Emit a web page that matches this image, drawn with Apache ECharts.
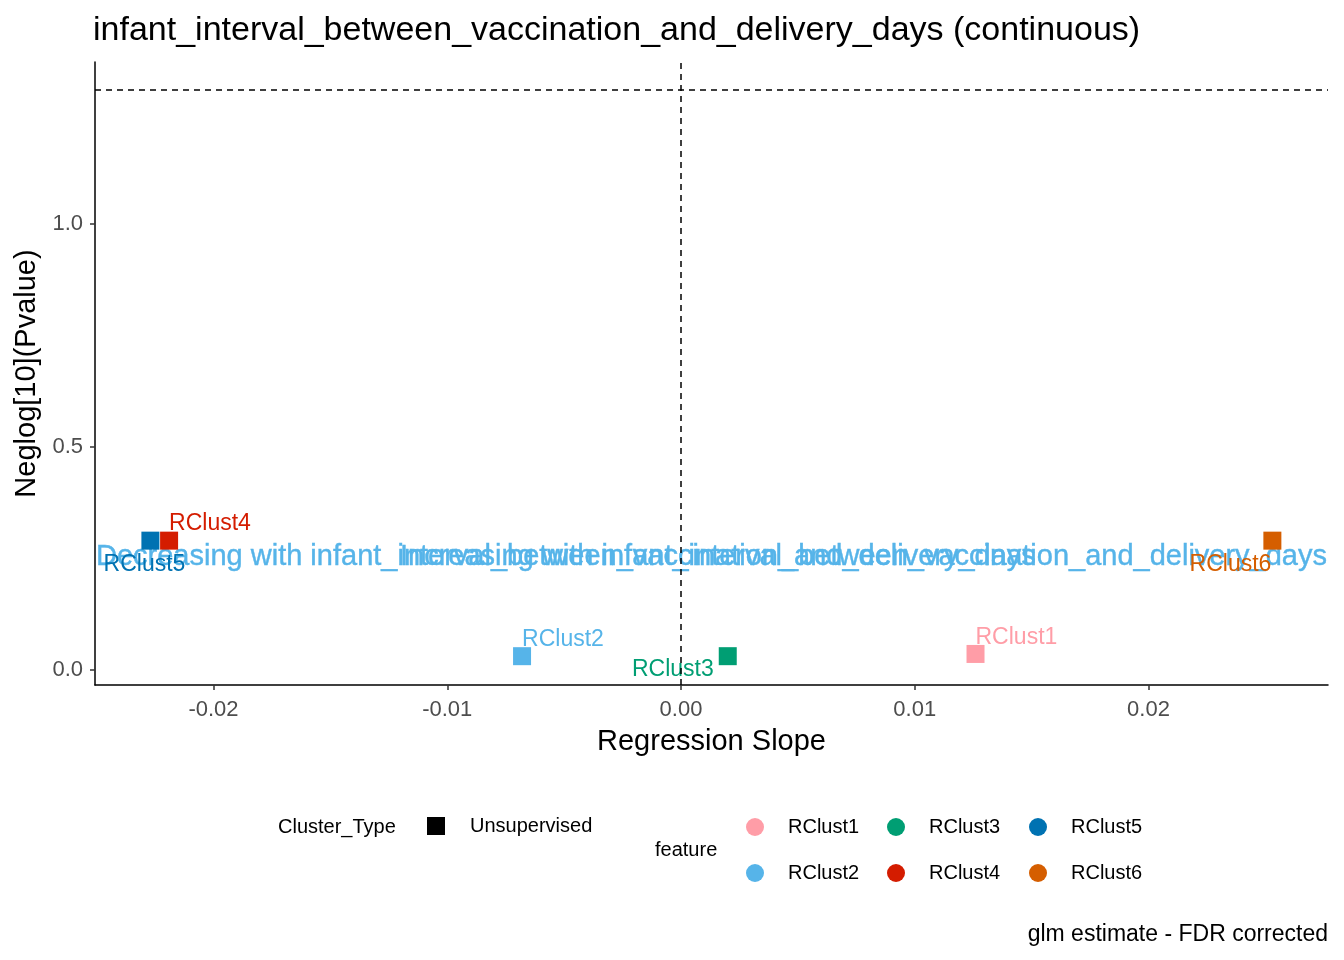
<!DOCTYPE html>
<html>
<head>
<meta charset="utf-8">
<script src="https://cdn.jsdelivr.net/npm/echarts@6/dist/echarts.min.js"></script>
<style>
  html, body { margin: 0; padding: 0; background: #fff; }
  #main { width: 1344px; height: 960px; }
</style>
</head>
<body>
<div id="main"></div>
<script>
// values
let features = ['RClust1', 'RClust2', 'RClust3', 'RClust4', 'RClust5', 'RClust6'];
let colors = ['#FF9DA7', '#56B4E9', '#009E73', '#D41C00', '#0072B2', '#D55E00'];
let slopes = [0.0126, -0.0068, 0.0020, -0.0219, -0.0227, 0.0253];
let neglogp = [0.036, 0.031, 0.031, 0.290, 0.290, 0.290];
// where ggrepel put each label: [position, dx, dy]
let labelPos = [
    ['right', -14, -16],
    ['right', -14, -17],
    ['left', 0, 13],
    ['right', -14, -17],
    ['left', 49, 24],
    ['left', 13, 24]
];
let xTicks = [-0.02, -0.01, 0.00, 0.01, 0.02];
let yTicks = [0.0, 0.5, 1.0];
let xMin = -0.02507, xMax = 0.02768;
let yMin = -0.0336, yMax = 1.363;
let pCut = 1.30103;
let annotY = 0.253;
let decText = 'Decreasing with infant_interval_between_vaccination_and_delivery_days';
let incText = 'Increasing with infant_interval_between_vaccination_and_delivery_days';

let font = '"Liberation Sans", Arial, sans-serif';

let myChart = echarts.init(document.getElementById('main'));

let series = features.map((f, i) => ({
    name: f,
    type: 'scatter',
    symbol: 'rect',
    symbolSize: 18,
    itemStyle: { color: colors[i], opacity: 1 },
    data: [{
        value: [slopes[i], neglogp[i]],
        label: {
            show: true,
            formatter: f,
            position: labelPos[i][0],
            offset: [labelPos[i][1], labelPos[i][2]],
            color: colors[i],
            fontSize: 23,
            fontFamily: font
        }
    }],
    z: 3
}));

// reference lines
series.push({
    name: 'ref',
    type: 'scatter',
    data: [],
    silent: true,
    markLine: {
        symbol: 'none',
        silent: true,
        label: { show: false },
        lineStyle: { color: '#000', type: [6, 5], width: 1.5 },
        data: [{ xAxis: 0 }, { yAxis: pCut }]
    }
});

// direction annotations
series.push({
    name: 'annot',
    type: 'scatter',
    symbolSize: 0,
    silent: true,
    itemStyle: { opacity: 1 },
    data: [
        { value: [xMin, annotY], label: { show: true, formatter: decText, position: 'right', offset: [-4, 0] } },
        { value: [xMax, annotY], label: { show: true, formatter: incText, position: 'left', offset: [4, 0] } }
    ],
    label: { color: '#56B4E9', fontSize: 29, fontFamily: font, textBorderColor: '#56B4E9', textBorderWidth: 0.4 },
    z: 2
});

// legend-only series for Cluster_Type
series.push({
    name: 'Unsupervised',
    type: 'scatter',
    symbol: 'rect',
    itemStyle: { color: '#000', opacity: 1 },
    data: []
});

function legendItem(name, left, top, icon, pad) {
    return {
        data: [{ name: name, icon: icon }],
        left: left,
        top: top,
        itemWidth: 18,
        itemHeight: 18,
        selectedMode: false,
        itemStyle: { opacity: 1 },
        textStyle: { fontSize: 20, color: '#000', fontFamily: font, padding: [0, 0, 0, pad] }
    };
}

let legendCols = [741, 882, 1024];
let legendRows = [812, 858];
let legends = [legendItem('Unsupervised', 422, 811, 'rect', 20)];
features.forEach((f, i) => {
    legends.push(legendItem(f, legendCols[Math.floor(i / 2)], legendRows[i % 2], 'circle', 19));
});

let option = {
    backgroundColor: '#fff',
    animation: false,
    title: [
        {
            text: 'infant_interval_between_vaccination_and_delivery_days (continuous)',
            left: 88, top: 9,
            textStyle: { fontSize: 34, fontWeight: 'normal', color: '#000', fontFamily: font }
        },
        {
            text: 'Cluster_Type', left: 273, top: 812,
            textStyle: { fontSize: 20, fontWeight: 'normal', color: '#000', fontFamily: font }
        },
        {
            text: 'feature', left: 650, top: 835,
            textStyle: { fontSize: 20, fontWeight: 'normal', color: '#000', fontFamily: font }
        },
        {
            text: 'glm estimate - FDR corrected', right: 11, top: 918,
            textStyle: { fontSize: 23, fontWeight: 'normal', color: '#000', fontFamily: font }
        }
    ],
    legend: legends,
    grid: { left: 95, right: 16, top: 62, bottom: 275 },
    xAxis: {
        type: 'value',
        min: xMin,
        max: xMax,
        name: 'Regression Slope',
        nameLocation: 'middle',
        nameGap: 42,
        nameTextStyle: { fontSize: 29, color: '#000', fontFamily: font },
        axisLine: { onZero: false, lineStyle: { color: '#000', width: 1.5 } },
        axisTick: { show: true, length: 5, customValues: xTicks, lineStyle: { color: '#333', width: 1.5 } },
        axisLabel: {
            customValues: xTicks,
            fontSize: 22, color: '#4D4D4D', fontFamily: font, margin: 14,
            formatter: v => (v < 0 ? '-' : '') + Math.abs(v).toFixed(2)
        },
        splitLine: { show: false }
    },
    yAxis: {
        type: 'value',
        min: yMin,
        max: yMax,
        name: 'Neglog[10](Pvalue)',
        nameLocation: 'middle',
        nameGap: 52,
        nameTextStyle: { fontSize: 29, color: '#000', fontFamily: font },
        axisLine: { onZero: false, lineStyle: { color: '#000', width: 1.5 } },
        axisTick: { show: true, length: 5, customValues: yTicks, lineStyle: { color: '#333', width: 1.5 } },
        axisLabel: {
            customValues: yTicks,
            fontSize: 22, color: '#4D4D4D', fontFamily: font, margin: 12,
            formatter: v => v.toFixed(1)
        },
        splitLine: { show: false }
    },
    series: series
};

myChart.setOption(option);
</script>
</body>
</html>
